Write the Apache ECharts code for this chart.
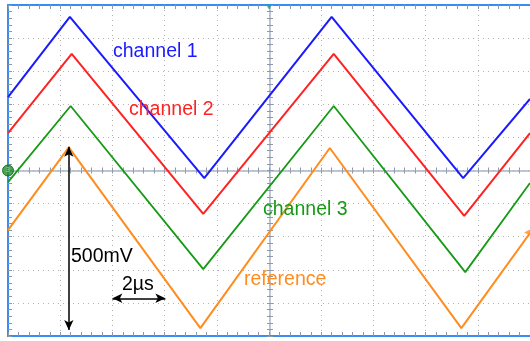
<!DOCTYPE html>
<html>
<head>
<meta charset="utf-8">
<script src="https://cdn.jsdelivr.net/npm/echarts@6/dist/echarts.min.js"></script>
<style>
html,body{margin:0;padding:0;background:#fff;}
#chart{width:530px;height:341px;}
</style>
</head>
<body>
<div id="chart"></div>
<script>
// time in microseconds (2 µs per division), voltage in divisions
const channel1 = [[0, 2.22], [2.37, 4.64], [7.52, -0.23], [12.40, 4.64], [17.44, -0.23], [20, 2.16]];
const channel2 = [[0, 1.13], [2.44, 3.52], [7.48, -1.31], [12.48, 3.52], [17.48, -1.37], [20, 1.13]];
const channel3 = [[0, -0.35], [2.40, 1.95], [7.48, -2.98], [12.48, 1.95], [17.52, -3.07], [20, -0.38]];
const reference = [[0, -1.80], [2.33, 0.70], [7.37, -4.76], [12.33, 0.68], [17.37, -4.76], [20, -1.89]];
const voltArrow = [[2.33, 0.72], [2.33, -4.82]];
const timeArrow = [[4.0, -3.86], [6.03, -3.86]];
const seriesNames = ['channel 1', 'channel 2', 'channel 3', 'reference'];
const scaleLabels = ['500mV', '2\u00b5s'];
const channelMarker = [[0, 0]];
const triggerMarker = [[10, 5]];
const refMarker = [[20, -1.87]];

const FONT = '"Liberation Sans", Arial, sans-serif';
const BORDER = '#3b8cf0';
const TICK = '#8d99aa';
const CENTER = '#a9b4c5';
const C1 = '#1a1aff', C2 = '#ff2222', C3 = '#169a16', CR = '#ff8c1f';

function borderAxis(pos, split) {
  return {
    type: 'value', position: pos, min: 0, max: 20, interval: 2,
    axisLine: {show: true, onZero: false, lineStyle: {color: BORDER, width: 2}},
    axisTick: {show: true, inside: true, length: 4, lineStyle: {color: TICK, width: 1}},
    minorTick: {show: true, splitNumber: 5, length: 4, lineStyle: {color: TICK, width: 1}},
    splitLine: {show: split, lineStyle: {color: '#b0b0b0', width: 1, type: [1, 4]}},
    axisLabel: {show: false}
  };
}
function centerX(inside, line) {
  return {
    type: 'value', position: 'bottom', offset: -165.5, min: 0, max: 20, interval: 2,
    axisLine: {show: line, onZero: false, lineStyle: {color: CENTER, width: 1.5}},
    axisTick: {show: true, inside: inside, length: 3, lineStyle: {color: TICK, width: 1}},
    minorTick: {show: true, splitNumber: 5, length: 3, lineStyle: {color: TICK, width: 1}},
    splitLine: {show: false}, axisLabel: {show: false}
  };
}
function centerY(inside, line) {
  return {
    type: 'value', position: 'left', offset: -262, min: -5, max: 5, interval: 1,
    axisLine: {show: line, onZero: false, lineStyle: {color: CENTER, width: 1.5}},
    axisTick: {show: true, inside: inside, length: 3, lineStyle: {color: TICK, width: 1}},
    minorTick: {show: true, splitNumber: 5, length: 3, lineStyle: {color: TICK, width: 1}},
    splitLine: {show: false}, axisLabel: {show: false}
  };
}

const chart = echarts.init(document.getElementById('chart'), null, {renderer: 'canvas'});
const lineSeries = (name, data, color, w) => ({
  name: name, type: 'line', data: data, xAxisIndex: 0, yAxisIndex: 0,
  symbol: 'none', lineStyle: {color: color, width: w}, itemStyle: {color: color},
  silent: true, z: 3
});

const option = {
  animation: false,
  backgroundColor: '#ffffff',
  grid: {left: 8, top: 5, width: 524, height: 331, containLabel: false},
  xAxis: [borderAxis('bottom', true), borderAxis('top', false), centerX(true, true), centerX(false, false)],
  yAxis: [
    {
      type: 'value', position: 'left', min: -5, max: 5, interval: 1,
      axisLine: {show: true, onZero: false, lineStyle: {color: BORDER, width: 2}},
      axisTick: {show: true, inside: true, length: 4, lineStyle: {color: TICK, width: 1}},
      minorTick: {show: true, splitNumber: 5, length: 4, lineStyle: {color: TICK, width: 1}},
      splitLine: {show: true, lineStyle: {color: '#b0b0b0', width: 1, type: [1, 4]}},
      axisLabel: {show: false}
    },
    centerY(true, true), centerY(false, false)
  ],
  series: [
    lineSeries(seriesNames[0], channel1, C1, 2),
    lineSeries(seriesNames[1], channel2, C2, 2),
    lineSeries(seriesNames[2], channel3, C3, 1.8),
    Object.assign(lineSeries(seriesNames[3], reference, CR, 2), {
      markLine: {
        silent: true, symbol: ['arrow', 'arrow'], symbolSize: [7, 10],
        label: {show: false},
        lineStyle: {color: '#000', width: 1.5, type: 'solid'},
        emphasis: {disabled: true},
        data: [
          [{coord: voltArrow[0]}, {coord: voltArrow[1]}],
          [{coord: timeArrow[0]}, {coord: timeArrow[1]}]
        ]
      }
    }),
    {
      type: 'scatter', data: channelMarker, symbol: 'circle', symbolSize: 11, clip: false, silent: true, z: 5,
      itemStyle: {color: '#1e8c28', borderColor: '#0f5e16', borderWidth: 1},
      label: {show: true, position: 'inside', formatter: '3', fontSize: 7, color: '#a8e0a8', fontFamily: FONT}
    },
    {
      type: 'scatter', data: triggerMarker, symbol: 'triangle', symbolRotate: 180, symbolSize: [6, 5],
      symbolOffset: [0, 2], clip: false, silent: true, z: 5, itemStyle: {color: '#1c9aa0'}
    },
    {
      type: 'scatter', data: refMarker, symbol: 'triangle', symbolRotate: 90, symbolSize: [6, 6],
      symbolOffset: [-3, 0], clip: false, silent: true, z: 5, itemStyle: {color: CR}
    }
  ],
  graphic: [
    {type: 'text', left: 113, top: 42, z: 10, silent: true,
     style: {text: seriesNames[0], fill: C1, font: '19.5px ' + FONT}},
    {type: 'text', left: 129, top: 100, z: 10, silent: true,
     style: {text: seriesNames[1], fill: C2, font: '19.5px ' + FONT}},
    {type: 'text', left: 263, top: 200, z: 10, silent: true,
     style: {text: seriesNames[2], fill: C3, font: '19.5px ' + FONT}},
    {type: 'text', left: 244, top: 270, z: 10, silent: true,
     style: {text: seriesNames[3], fill: CR, font: '19.5px ' + FONT}},
    {type: 'text', left: 71, top: 247, z: 10, silent: true,
     style: {text: scaleLabels[0], fill: '#000', font: '19.5px ' + FONT}},
    {type: 'text', left: 122, top: 275, z: 10, silent: true,
     style: {text: scaleLabels[1], fill: '#000', font: '19.5px ' + FONT}}
  ]
};
chart.setOption(option);
</script>
</body>
</html>
